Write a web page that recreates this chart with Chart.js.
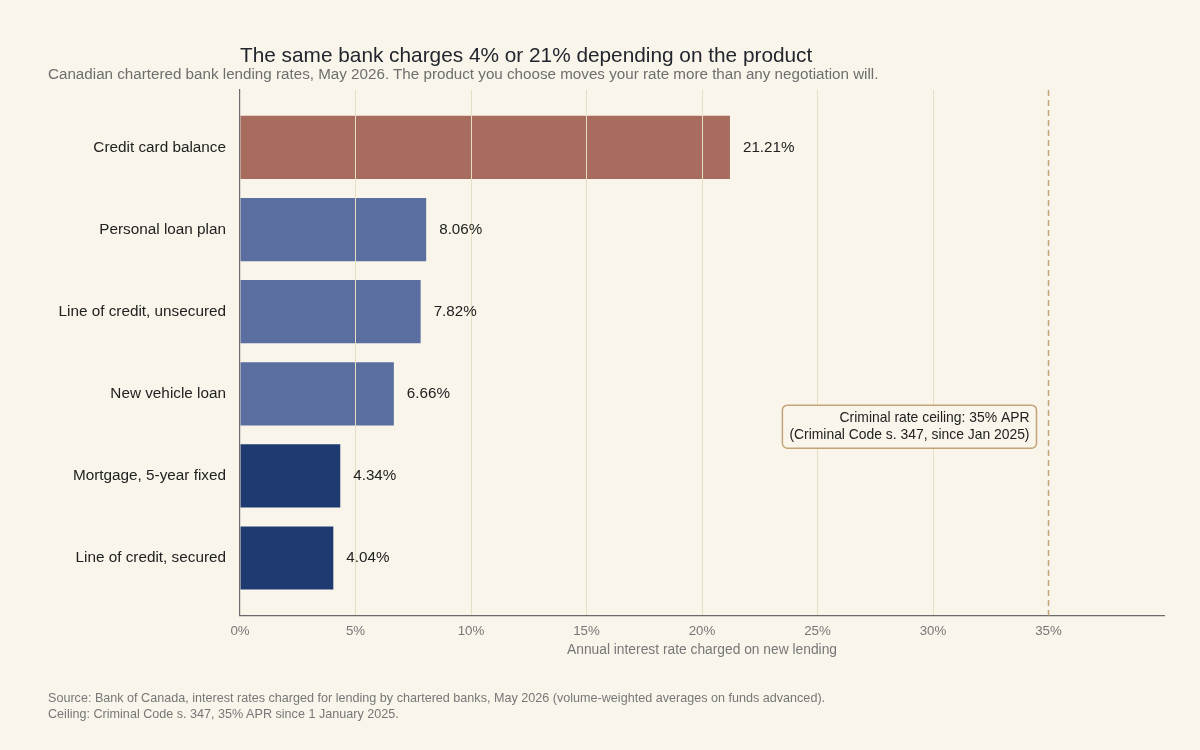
<!DOCTYPE html>
<html>
<head>
<meta charset="utf-8">
<script src="https://cdn.jsdelivr.net/npm/chart.js@4.4.1/dist/chart.umd.min.js"></script>
<style>
    html, body {
        margin: 0;
        padding: 0;
        background: #f9f5ea;
    }
    #wrap {
        position: relative;
        width: 1200px;
        height: 750px;
        font-family: "Liberation Sans", Arial, sans-serif;
    }
    #myChart {
        position: absolute;
        left: 0;
        top: 0;
    }
    .title {
        position: absolute;
        left: 240px;
        top: 43px;
        font-size: 20.8px;
        color: #22252d;
        white-space: nowrap;
    }
    .subtitle {
        position: absolute;
        left: 48px;
        top: 65px;
        font-size: 15.2px;
        color: #6e6e6e;
        white-space: nowrap;
    }
    .source {
        position: absolute;
        left: 48px;
        top: 690px;
        font-size: 12.6px;
        line-height: 16px;
        color: #777777;
        white-space: nowrap;
    }
</style>
</head>
<body>
<div id="wrap">
    <canvas id="myChart" width="1200" height="750"></canvas>
    <div class="title">The same bank charges 4% or 21% depending on the product</div>
    <div class="subtitle">Canadian chartered bank lending rates, May 2026. The product you choose moves your rate more than any negotiation will.</div>
    <div class="source">Source: Bank of Canada, interest rates charged for lending by chartered banks, May 2026 (volume-weighted averages on funds advanced).<br>Ceiling: Criminal Code s. 347, 35% APR since 1 January 2025.</div>
</div>

<script>
// Данные
const categories = [
    'Credit card balance',
    'Personal loan plan',
    'Line of credit, unsecured',
    'New vehicle loan',
    'Mortgage, 5-year fixed',
    'Line of credit, secured'
];
const rates = [21.21, 8.06, 7.82, 6.66, 4.34, 4.04];
const productGroup = ['card', 'consumer', 'consumer', 'consumer', 'secured', 'secured'];
const xTicks = [0, 5, 10, 15, 20, 25, 30, 35];
const ceilingRate = 35;
const ceilingLabel = ['Criminal rate ceiling: 35% APR', '(Criminal Code s. 347, since Jan 2025)'];

const groupColors = {
    card: '#a86c5e',
    consumer: '#5a6ea0',
    secured: '#1f3a70'
};
const FONT = '"Liberation Sans", Arial, sans-serif';

// Подписи значений справа от столбцов (поверх сетки)
const valueLabels = {
    id: 'valueLabels',
    afterDraw(chart) {
        const ctx = chart.ctx;
        const meta = chart.getDatasetMeta(0);
        ctx.save();
        ctx.font = '15.2px ' + FONT;
        ctx.fillStyle = '#222222';
        ctx.textAlign = 'left';
        ctx.textBaseline = 'middle';
        meta.data.forEach((bar, i) => {
            ctx.fillText(rates[i].toFixed(2) + '%', bar.x + 13, bar.y);
        });
        ctx.restore();
    }
};

// Пунктирная линия потолка и подпись (поверх сетки)
const ceilingLine = {
    id: 'ceilingLine',
    afterDraw(chart) {
        const ctx = chart.ctx;
        const x = chart.scales.x.getPixelForValue(ceilingRate);
        const area = chart.chartArea;
        ctx.save();
        ctx.strokeStyle = '#c4a477';
        ctx.lineWidth = 1.5;
        ctx.setLineDash([6, 4]);
        ctx.beginPath();
        ctx.moveTo(x, area.top);
        ctx.lineTo(x, area.bottom);
        ctx.stroke();
        ctx.setLineDash([]);

        ctx.font = '13.9px ' + FONT;
        const lineH = 17;
        const pad = 7;
        const w = Math.max(...ceilingLabel.map(t => ctx.measureText(t).width)) + pad * 2;
        const h = lineH * ceilingLabel.length + 9;
        const right = x - 12;
        const cy = chart.scales.y.getPixelForValue(3.4);
        const top = cy - h / 2;
        ctx.beginPath();
        ctx.roundRect(right - w, top, w, h, 5);
        ctx.fillStyle = '#f9f5ea';
        ctx.fill();
        ctx.lineWidth = 1.5;
        ctx.strokeStyle = '#c4a477';
        ctx.stroke();

        ctx.fillStyle = '#222222';
        ctx.textAlign = 'right';
        ctx.textBaseline = 'middle';
        ceilingLabel.forEach((t, i) => {
            ctx.fillText(t, right - pad, top + 4.5 + lineH * (i + 0.5));
        });
        ctx.restore();
    }
};

const ctx = document.getElementById('myChart');

new Chart(ctx, {
    type: 'bar',
    data: {
        datasets: [{
            data: rates.map((r, i) => ({x: r, y: i})),
            backgroundColor: productGroup.map(g => groupColors[g]),
            borderWidth: 0,
            categoryPercentage: 1,
            barPercentage: 0.77
        }]
    },
    options: {
        indexAxis: 'y',
        responsive: false,
        animation: false,
        layout: {
            padding: {top: 90, right: 36, bottom: 92, left: 0}
        },
        plugins: {
            legend: {display: false},
            tooltip: {enabled: false},
            title: {display: false}
        },
        scales: {
            x: {
                type: 'linear',
                min: 0,
                max: 40,
                afterBuildTicks: (scale) => {
                    scale.ticks = xTicks.map(v => ({value: v}));
                },
                grid: {
                    z: 1,
                    drawTicks: false,
                    lineWidth: 1,
                    color: (c) => (c.tick && (c.tick.value === 0 || c.tick.value === ceilingRate)) ? 'rgba(0,0,0,0)' : '#e6dec2'
                },
                border: {display: true, color: '#6b6b6b', width: 1.2, z: 1},
                ticks: {
                    padding: 8,
                    color: '#777777',
                    font: {family: FONT, size: 13.3},
                    callback: (v) => v + '%'
                },
                title: {
                    display: true,
                    text: 'Annual interest rate charged on new lending',
                    color: '#777777',
                    font: {family: FONT, size: 13.8},
                    padding: {top: -6, bottom: 0}
                }
            },
            y: {
                type: 'linear',
                reverse: true,
                offset: false,
                min: -0.7,
                max: 5.7,
                afterBuildTicks: (scale) => {
                    scale.ticks = categories.map((c, i) => ({value: i}));
                },
                afterFit: (scale) => {
                    scale.width = 240;
                },
                grid: {display: false, drawTicks: false},
                border: {display: true, color: '#6b6b6b', width: 1.2, z: 1},
                ticks: {
                    padding: 14,
                    color: '#222222',
                    font: {family: FONT, size: 15.3},
                    callback: (v) => categories[v]
                }
            }
        }
    },
    plugins: [valueLabels, ceilingLine]
});
</script>
</body>
</html>
